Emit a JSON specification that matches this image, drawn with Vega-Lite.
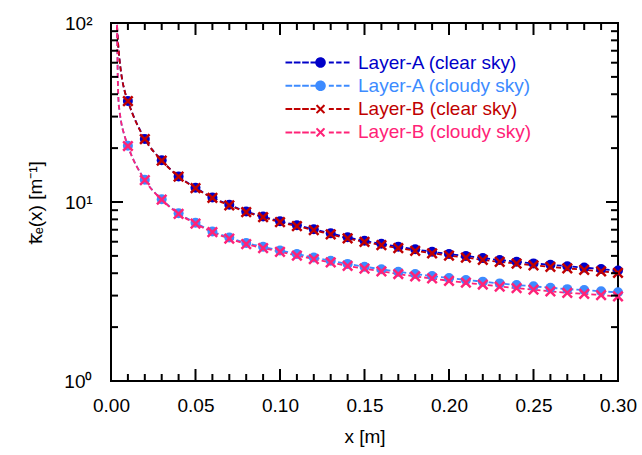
{
  "$schema": "https://vega.github.io/schema/vega-lite/v6.json",
  "autosize": {"type": "none"},
  "width": 507,
  "height": 358,
  "padding": {"left": 111, "top": 23, "right": 24, "bottom": 74},
  "background": "white",
  "config": {
    "font": "Liberation Sans",
    "view": {"stroke": "black", "strokeWidth": 2},
    "axis": {"grid": false, "domain": false, "ticks": false, "labelColor": "black", "labelFont": "Liberation Sans", "titleFont": "Liberation Sans", "labelFontSize": 19, "titleFontSize": 19, "titleFontWeight": "normal", "titleColor": "black", "labelFlush": false, "labelOverlap": false}
  },
  "datasets": {
    "xt": [
      {"v": 0, "m": "major"}, {"v": 0.01, "m": "minor"}, {"v": 0.02, "m": "minor"}, {"v": 0.03, "m": "minor"}, {"v": 0.04, "m": "minor"},
      {"v": 0.05, "m": "major"}, {"v": 0.06, "m": "minor"}, {"v": 0.07, "m": "minor"}, {"v": 0.08, "m": "minor"}, {"v": 0.09, "m": "minor"},
      {"v": 0.10, "m": "major"}, {"v": 0.11, "m": "minor"}, {"v": 0.12, "m": "minor"}, {"v": 0.13, "m": "minor"}, {"v": 0.14, "m": "minor"},
      {"v": 0.15, "m": "major"}, {"v": 0.16, "m": "minor"}, {"v": 0.17, "m": "minor"}, {"v": 0.18, "m": "minor"}, {"v": 0.19, "m": "minor"},
      {"v": 0.20, "m": "major"}, {"v": 0.21, "m": "minor"}, {"v": 0.22, "m": "minor"}, {"v": 0.23, "m": "minor"}, {"v": 0.24, "m": "minor"},
      {"v": 0.25, "m": "major"}, {"v": 0.26, "m": "minor"}, {"v": 0.27, "m": "minor"}, {"v": 0.28, "m": "minor"}, {"v": 0.29, "m": "minor"},
      {"v": 0.30, "m": "major"}
    ],
    "yt": [
      {"v": 1, "m": "major"}, {"v": 2, "m": "minor"}, {"v": 3, "m": "minor"}, {"v": 4, "m": "minor"}, {"v": 5, "m": "minor"},
      {"v": 6, "m": "minor"}, {"v": 7, "m": "minor"}, {"v": 8, "m": "minor"}, {"v": 9, "m": "minor"},
      {"v": 10, "m": "major"}, {"v": 20, "m": "minor"}, {"v": 30, "m": "minor"}, {"v": 40, "m": "minor"}, {"v": 50, "m": "minor"},
      {"v": 60, "m": "minor"}, {"v": 70, "m": "minor"}, {"v": 80, "m": "minor"}, {"v": 90, "m": "minor"}, {"v": 100, "m": "major"}
    ],
    "curves": [
    {"s": "Layer-A (clear sky)", "p": "c", "x": 0.003, "k": 130},
    {"s": "Layer-A (clear sky)", "p": "c", "x": 0.0035, "k": 100},
    {"s": "Layer-A (clear sky)", "p": "c", "x": 0.004, "k": 82},
    {"s": "Layer-A (clear sky)", "p": "c", "x": 0.005, "k": 63},
    {"s": "Layer-A (clear sky)", "p": "c", "x": 0.006, "k": 52.5},
    {"s": "Layer-A (clear sky)", "p": "c", "x": 0.008, "k": 42},
    {"s": "Layer-A (clear sky)", "p": "p", "x": 0.01, "k": 36.7},
    {"s": "Layer-A (clear sky)", "p": "p", "x": 0.02, "k": 22.5},
    {"s": "Layer-A (clear sky)", "p": "p", "x": 0.03, "k": 17.1},
    {"s": "Layer-A (clear sky)", "p": "p", "x": 0.04, "k": 13.9},
    {"s": "Layer-A (clear sky)", "p": "p", "x": 0.05, "k": 12.0},
    {"s": "Layer-A (clear sky)", "p": "p", "x": 0.06, "k": 10.6},
    {"s": "Layer-A (clear sky)", "p": "p", "x": 0.07, "k": 9.65},
    {"s": "Layer-A (clear sky)", "p": "p", "x": 0.08, "k": 8.85},
    {"s": "Layer-A (clear sky)", "p": "p", "x": 0.09, "k": 8.3},
    {"s": "Layer-A (clear sky)", "p": "p", "x": 0.10, "k": 7.8},
    {"s": "Layer-A (clear sky)", "p": "p", "x": 0.11, "k": 7.42},
    {"s": "Layer-A (clear sky)", "p": "p", "x": 0.12, "k": 7.04},
    {"s": "Layer-A (clear sky)", "p": "p", "x": 0.13, "k": 6.68},
    {"s": "Layer-A (clear sky)", "p": "p", "x": 0.14, "k": 6.35},
    {"s": "Layer-A (clear sky)", "p": "p", "x": 0.15, "k": 6.07},
    {"s": "Layer-A (clear sky)", "p": "p", "x": 0.16, "k": 5.84},
    {"s": "Layer-A (clear sky)", "p": "p", "x": 0.17, "k": 5.63},
    {"s": "Layer-A (clear sky)", "p": "p", "x": 0.18, "k": 5.44},
    {"s": "Layer-A (clear sky)", "p": "p", "x": 0.19, "k": 5.27},
    {"s": "Layer-A (clear sky)", "p": "p", "x": 0.20, "k": 5.12},
    {"s": "Layer-A (clear sky)", "p": "p", "x": 0.21, "k": 4.99},
    {"s": "Layer-A (clear sky)", "p": "p", "x": 0.22, "k": 4.86},
    {"s": "Layer-A (clear sky)", "p": "p", "x": 0.23, "k": 4.74},
    {"s": "Layer-A (clear sky)", "p": "p", "x": 0.24, "k": 4.64},
    {"s": "Layer-A (clear sky)", "p": "p", "x": 0.25, "k": 4.54},
    {"s": "Layer-A (clear sky)", "p": "p", "x": 0.26, "k": 4.46},
    {"s": "Layer-A (clear sky)", "p": "p", "x": 0.27, "k": 4.38},
    {"s": "Layer-A (clear sky)", "p": "p", "x": 0.28, "k": 4.30},
    {"s": "Layer-A (clear sky)", "p": "p", "x": 0.29, "k": 4.22},
    {"s": "Layer-A (clear sky)", "p": "p", "x": 0.30, "k": 4.14},
    {"s": "Layer-A (cloudy sky)", "p": "c", "x": 0.0035, "k": 120},
    {"s": "Layer-A (cloudy sky)", "p": "c", "x": 0.004, "k": 50},
    {"s": "Layer-A (cloudy sky)", "p": "c", "x": 0.0045, "k": 36},
    {"s": "Layer-A (cloudy sky)", "p": "c", "x": 0.005, "k": 32.5},
    {"s": "Layer-A (cloudy sky)", "p": "c", "x": 0.006, "k": 28},
    {"s": "Layer-A (cloudy sky)", "p": "c", "x": 0.008, "k": 23.5},
    {"s": "Layer-A (cloudy sky)", "p": "p", "x": 0.01, "k": 20.6},
    {"s": "Layer-A (cloudy sky)", "p": "p", "x": 0.02, "k": 13.3},
    {"s": "Layer-A (cloudy sky)", "p": "p", "x": 0.03, "k": 10.35},
    {"s": "Layer-A (cloudy sky)", "p": "p", "x": 0.04, "k": 8.65},
    {"s": "Layer-A (cloudy sky)", "p": "p", "x": 0.05, "k": 7.65},
    {"s": "Layer-A (cloudy sky)", "p": "p", "x": 0.06, "k": 6.85},
    {"s": "Layer-A (cloudy sky)", "p": "p", "x": 0.07, "k": 6.33},
    {"s": "Layer-A (cloudy sky)", "p": "p", "x": 0.08, "k": 5.9},
    {"s": "Layer-A (cloudy sky)", "p": "p", "x": 0.09, "k": 5.62},
    {"s": "Layer-A (cloudy sky)", "p": "p", "x": 0.10, "k": 5.36},
    {"s": "Layer-A (cloudy sky)", "p": "p", "x": 0.11, "k": 5.12},
    {"s": "Layer-A (cloudy sky)", "p": "p", "x": 0.12, "k": 4.90},
    {"s": "Layer-A (cloudy sky)", "p": "p", "x": 0.13, "k": 4.70},
    {"s": "Layer-A (cloudy sky)", "p": "p", "x": 0.14, "k": 4.51},
    {"s": "Layer-A (cloudy sky)", "p": "p", "x": 0.15, "k": 4.35},
    {"s": "Layer-A (cloudy sky)", "p": "p", "x": 0.16, "k": 4.21},
    {"s": "Layer-A (cloudy sky)", "p": "p", "x": 0.17, "k": 4.08},
    {"s": "Layer-A (cloudy sky)", "p": "p", "x": 0.18, "k": 3.96},
    {"s": "Layer-A (cloudy sky)", "p": "p", "x": 0.19, "k": 3.86},
    {"s": "Layer-A (cloudy sky)", "p": "p", "x": 0.20, "k": 3.76},
    {"s": "Layer-A (cloudy sky)", "p": "p", "x": 0.21, "k": 3.67},
    {"s": "Layer-A (cloudy sky)", "p": "p", "x": 0.22, "k": 3.59},
    {"s": "Layer-A (cloudy sky)", "p": "p", "x": 0.23, "k": 3.51},
    {"s": "Layer-A (cloudy sky)", "p": "p", "x": 0.24, "k": 3.44},
    {"s": "Layer-A (cloudy sky)", "p": "p", "x": 0.25, "k": 3.38},
    {"s": "Layer-A (cloudy sky)", "p": "p", "x": 0.26, "k": 3.32},
    {"s": "Layer-A (cloudy sky)", "p": "p", "x": 0.27, "k": 3.26},
    {"s": "Layer-A (cloudy sky)", "p": "p", "x": 0.28, "k": 3.22},
    {"s": "Layer-A (cloudy sky)", "p": "p", "x": 0.29, "k": 3.17},
    {"s": "Layer-A (cloudy sky)", "p": "p", "x": 0.30, "k": 3.13},
    {"s": "Layer-B (clear sky)", "p": "c", "x": 0.003, "k": 130},
    {"s": "Layer-B (clear sky)", "p": "c", "x": 0.0035, "k": 100},
    {"s": "Layer-B (clear sky)", "p": "c", "x": 0.004, "k": 82},
    {"s": "Layer-B (clear sky)", "p": "c", "x": 0.005, "k": 63},
    {"s": "Layer-B (clear sky)", "p": "c", "x": 0.006, "k": 52.5},
    {"s": "Layer-B (clear sky)", "p": "c", "x": 0.008, "k": 42},
    {"s": "Layer-B (clear sky)", "p": "p", "x": 0.01, "k": 36.6},
    {"s": "Layer-B (clear sky)", "p": "p", "x": 0.02, "k": 22.45},
    {"s": "Layer-B (clear sky)", "p": "p", "x": 0.03, "k": 17.05},
    {"s": "Layer-B (clear sky)", "p": "p", "x": 0.04, "k": 13.85},
    {"s": "Layer-B (clear sky)", "p": "p", "x": 0.05, "k": 11.94},
    {"s": "Layer-B (clear sky)", "p": "p", "x": 0.06, "k": 10.54},
    {"s": "Layer-B (clear sky)", "p": "p", "x": 0.07, "k": 9.58},
    {"s": "Layer-B (clear sky)", "p": "p", "x": 0.08, "k": 8.78},
    {"s": "Layer-B (clear sky)", "p": "p", "x": 0.09, "k": 8.22},
    {"s": "Layer-B (clear sky)", "p": "p", "x": 0.10, "k": 7.72},
    {"s": "Layer-B (clear sky)", "p": "p", "x": 0.11, "k": 7.34},
    {"s": "Layer-B (clear sky)", "p": "p", "x": 0.12, "k": 6.96},
    {"s": "Layer-B (clear sky)", "p": "p", "x": 0.13, "k": 6.59},
    {"s": "Layer-B (clear sky)", "p": "p", "x": 0.14, "k": 6.26},
    {"s": "Layer-B (clear sky)", "p": "p", "x": 0.15, "k": 5.98},
    {"s": "Layer-B (clear sky)", "p": "p", "x": 0.16, "k": 5.74},
    {"s": "Layer-B (clear sky)", "p": "p", "x": 0.17, "k": 5.53},
    {"s": "Layer-B (clear sky)", "p": "p", "x": 0.18, "k": 5.34},
    {"s": "Layer-B (clear sky)", "p": "p", "x": 0.19, "k": 5.17},
    {"s": "Layer-B (clear sky)", "p": "p", "x": 0.20, "k": 5.02},
    {"s": "Layer-B (clear sky)", "p": "p", "x": 0.21, "k": 4.89},
    {"s": "Layer-B (clear sky)", "p": "p", "x": 0.22, "k": 4.75},
    {"s": "Layer-B (clear sky)", "p": "p", "x": 0.23, "k": 4.63},
    {"s": "Layer-B (clear sky)", "p": "p", "x": 0.24, "k": 4.53},
    {"s": "Layer-B (clear sky)", "p": "p", "x": 0.25, "k": 4.43},
    {"s": "Layer-B (clear sky)", "p": "p", "x": 0.26, "k": 4.34},
    {"s": "Layer-B (clear sky)", "p": "p", "x": 0.27, "k": 4.26},
    {"s": "Layer-B (clear sky)", "p": "p", "x": 0.28, "k": 4.18},
    {"s": "Layer-B (clear sky)", "p": "p", "x": 0.29, "k": 4.10},
    {"s": "Layer-B (clear sky)", "p": "p", "x": 0.30, "k": 4.02},
    {"s": "Layer-B (cloudy sky)", "p": "c", "x": 0.0035, "k": 120},
    {"s": "Layer-B (cloudy sky)", "p": "c", "x": 0.004, "k": 50},
    {"s": "Layer-B (cloudy sky)", "p": "c", "x": 0.0045, "k": 36},
    {"s": "Layer-B (cloudy sky)", "p": "c", "x": 0.005, "k": 32.5},
    {"s": "Layer-B (cloudy sky)", "p": "c", "x": 0.006, "k": 28},
    {"s": "Layer-B (cloudy sky)", "p": "c", "x": 0.008, "k": 23.5},
    {"s": "Layer-B (cloudy sky)", "p": "p", "x": 0.01, "k": 20.55},
    {"s": "Layer-B (cloudy sky)", "p": "p", "x": 0.02, "k": 13.25},
    {"s": "Layer-B (cloudy sky)", "p": "p", "x": 0.03, "k": 10.3},
    {"s": "Layer-B (cloudy sky)", "p": "p", "x": 0.04, "k": 8.59},
    {"s": "Layer-B (cloudy sky)", "p": "p", "x": 0.05, "k": 7.58},
    {"s": "Layer-B (cloudy sky)", "p": "p", "x": 0.06, "k": 6.78},
    {"s": "Layer-B (cloudy sky)", "p": "p", "x": 0.07, "k": 6.25},
    {"s": "Layer-B (cloudy sky)", "p": "p", "x": 0.08, "k": 5.82},
    {"s": "Layer-B (cloudy sky)", "p": "p", "x": 0.09, "k": 5.53},
    {"s": "Layer-B (cloudy sky)", "p": "p", "x": 0.10, "k": 5.27},
    {"s": "Layer-B (cloudy sky)", "p": "p", "x": 0.11, "k": 5.02},
    {"s": "Layer-B (cloudy sky)", "p": "p", "x": 0.12, "k": 4.80},
    {"s": "Layer-B (cloudy sky)", "p": "p", "x": 0.13, "k": 4.60},
    {"s": "Layer-B (cloudy sky)", "p": "p", "x": 0.14, "k": 4.40},
    {"s": "Layer-B (cloudy sky)", "p": "p", "x": 0.15, "k": 4.24},
    {"s": "Layer-B (cloudy sky)", "p": "p", "x": 0.16, "k": 4.10},
    {"s": "Layer-B (cloudy sky)", "p": "p", "x": 0.17, "k": 3.96},
    {"s": "Layer-B (cloudy sky)", "p": "p", "x": 0.18, "k": 3.84},
    {"s": "Layer-B (cloudy sky)", "p": "p", "x": 0.19, "k": 3.74},
    {"s": "Layer-B (cloudy sky)", "p": "p", "x": 0.20, "k": 3.63},
    {"s": "Layer-B (cloudy sky)", "p": "p", "x": 0.21, "k": 3.54},
    {"s": "Layer-B (cloudy sky)", "p": "p", "x": 0.22, "k": 3.46},
    {"s": "Layer-B (cloudy sky)", "p": "p", "x": 0.23, "k": 3.37},
    {"s": "Layer-B (cloudy sky)", "p": "p", "x": 0.24, "k": 3.30},
    {"s": "Layer-B (cloudy sky)", "p": "p", "x": 0.25, "k": 3.24},
    {"s": "Layer-B (cloudy sky)", "p": "p", "x": 0.26, "k": 3.17},
    {"s": "Layer-B (cloudy sky)", "p": "p", "x": 0.27, "k": 3.11},
    {"s": "Layer-B (cloudy sky)", "p": "p", "x": 0.28, "k": 3.07},
    {"s": "Layer-B (cloudy sky)", "p": "p", "x": 0.29, "k": 3.02},
    {"s": "Layer-B (cloudy sky)", "p": "p", "x": 0.30, "k": 2.97}
    ]
  },
  "data": {"name": "curves"},
  "layer": [
    {
      "mark": {"type": "line", "strokeDash": [5, 3], "strokeWidth": 1.8, "clip": true, "interpolate": "monotone"},
      "encoding": {
        "x": {"field": "x", "type": "quantitative", "scale": {"domain": [0, 0.3], "nice": false, "zero": false},
              "axis": {"orient": "bottom", "values": [0, 0.05, 0.1, 0.15, 0.2, 0.25, 0.3], "format": ".2f", "ticks": false, "labelPadding": 15, "title": "x [m]", "titlePadding": 12}},
        "y": {"field": "k", "type": "quantitative", "scale": {"type": "log", "domain": [1, 100], "nice": false},
              "axis": {"orient": "left", "values": [1, 10, 100], "ticks": false, "labelPadding": 19, "labelExpr": "datum.value == 1 ? '10⁰' : datum.value == 10 ? '10¹' : '10²'", "title": "k̅ₑ(x) [m⁻¹]", "titlePadding": 18}},
        "color": {"field": "s", "type": "nominal",
                  "scale": {"domain": ["Layer-A (clear sky)", "Layer-A (cloudy sky)", "Layer-B (clear sky)", "Layer-B (cloudy sky)"],
                            "range": ["#0000c8", "#3d8bff", "#c00000", "#ff2277"]},
                  "legend": {"orient": "none", "legendX": 200, "legendY": 30, "title": null, "labelFontSize": 19, "labelFont": "Liberation Sans", "labelLimit": 400, "symbolSize": 36, "labelOffset": 28, "rowPadding": 3.3, "padding": 0,
                             "encode": {
                               "symbols": {"update": {
                                 "opacity": {"value": 1},
                                 "size": {"value": 36},
                                 "fill": {"scale": "color", "field": "value"},
                                 "stroke": {"scale": "color", "field": "value"},
                                 "strokeWidth": {"value": 2},
                                 "strokeDash": {"value": [1, 0]},
                                 "shape": {"signal": "indexof(datum.value, 'Layer-A') == 0 ? 'M-11.67,0H-9.44M-8.89,0H-6.67M-6.11,0H-3.89M-3.33,0H-1.67M2.78,0H4.44M5.22,0H7M7.78,0H9.67M-1.43,0A1.43,1.43,0,1,0,1.43,0A1.43,1.43,0,1,0,-1.43,0Z' : 'M-11.67,0H-9.44M-8.89,0H-6.67M-6.11,0H-3.89M-3.33,0H-1.67M2.78,0H4.44M5.22,0H7M7.78,0H9.67M-1.33,-1.33L1.33,1.33M-1.33,1.33L1.33,-1.33'"}
                               }},
                               "labels": {"update": {"fill": {"scale": "color", "field": "value"}}}
                             }}}
      }
    },
    {
      "transform": [{"filter": "datum.p == 'p' && indexof(datum.s, 'Layer-A') == 0"}],
      "mark": {"type": "point", "shape": "circle", "filled": true, "size": 100, "opacity": 1},
      "encoding": {
        "x": {"field": "x", "type": "quantitative"},
        "y": {"field": "k", "type": "quantitative"},
        "color": {"field": "s", "type": "nominal"}
      }
    },
    {
      "transform": [{"filter": "datum.p == 'p' && indexof(datum.s, 'Layer-B') == 0"}],
      "mark": {"type": "point", "shape": "M-1,-1L1,1M-1,1L1,-1", "filled": false, "size": 90, "strokeWidth": 2.5, "opacity": 1},
      "encoding": {
        "x": {"field": "x", "type": "quantitative"},
        "y": {"field": "k", "type": "quantitative"},
        "color": {"field": "s", "type": "nominal"}
      }
    },
    {
      "data": {"name": "xt"},
      "transform": [{"filter": "datum.m == 'major'"}],
      "mark": {"type": "point", "shape": "M0,0L0,-1", "filled": false, "stroke": "black", "strokeWidth": 2, "size": 576, "opacity": 1},
      "encoding": {"x": {"field": "v", "type": "quantitative"}, "y": {"datum": 1, "type": "quantitative"}}
    },
    {
      "data": {"name": "xt"},
      "transform": [{"filter": "datum.m == 'minor'"}],
      "mark": {"type": "point", "shape": "M0,0L0,-1", "filled": false, "stroke": "black", "strokeWidth": 2, "size": 196, "opacity": 1},
      "encoding": {"x": {"field": "v", "type": "quantitative"}, "y": {"datum": 1, "type": "quantitative"}}
    },
    {
      "data": {"name": "xt"},
      "transform": [{"filter": "datum.m == 'major'"}],
      "mark": {"type": "point", "shape": "M0,0L0,1", "filled": false, "stroke": "black", "strokeWidth": 2, "size": 576, "opacity": 1},
      "encoding": {"x": {"field": "v", "type": "quantitative"}, "y": {"datum": 100, "type": "quantitative"}}
    },
    {
      "data": {"name": "xt"},
      "transform": [{"filter": "datum.m == 'minor'"}],
      "mark": {"type": "point", "shape": "M0,0L0,1", "filled": false, "stroke": "black", "strokeWidth": 2, "size": 196, "opacity": 1},
      "encoding": {"x": {"field": "v", "type": "quantitative"}, "y": {"datum": 100, "type": "quantitative"}}
    },
    {
      "data": {"name": "yt"},
      "transform": [{"filter": "datum.m == 'major'"}],
      "mark": {"type": "point", "shape": "M0,0L1,0", "filled": false, "stroke": "black", "strokeWidth": 2, "size": 576, "opacity": 1},
      "encoding": {"y": {"field": "v", "type": "quantitative"}, "x": {"datum": 0, "type": "quantitative"}}
    },
    {
      "data": {"name": "yt"},
      "transform": [{"filter": "datum.m == 'minor'"}],
      "mark": {"type": "point", "shape": "M0,0L1,0", "filled": false, "stroke": "black", "strokeWidth": 2, "size": 196, "opacity": 1},
      "encoding": {"y": {"field": "v", "type": "quantitative"}, "x": {"datum": 0, "type": "quantitative"}}
    },
    {
      "data": {"name": "yt"},
      "transform": [{"filter": "datum.m == 'major'"}],
      "mark": {"type": "point", "shape": "M0,0L-1,0", "filled": false, "stroke": "black", "strokeWidth": 2, "size": 576, "opacity": 1},
      "encoding": {"y": {"field": "v", "type": "quantitative"}, "x": {"datum": 0.3, "type": "quantitative"}}
    },
    {
      "data": {"name": "yt"},
      "transform": [{"filter": "datum.m == 'minor'"}],
      "mark": {"type": "point", "shape": "M0,0L-1,0", "filled": false, "stroke": "black", "strokeWidth": 2, "size": 196, "opacity": 1},
      "encoding": {"y": {"field": "v", "type": "quantitative"}, "x": {"datum": 0.3, "type": "quantitative"}}
    }
  ]
}
